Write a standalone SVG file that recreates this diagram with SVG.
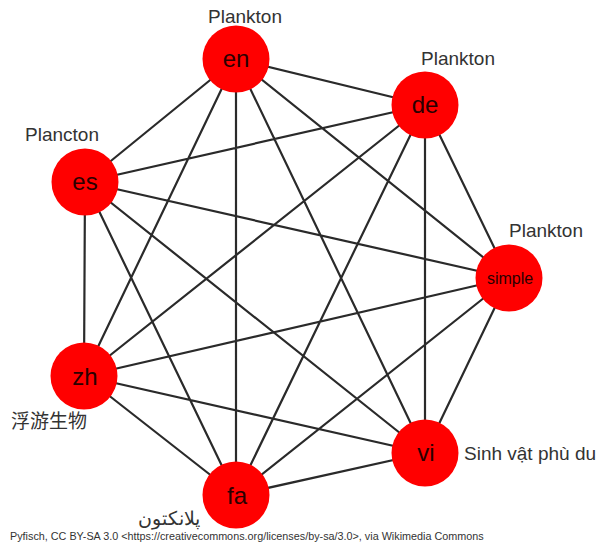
<svg xmlns="http://www.w3.org/2000/svg" width="605" height="543" viewBox="0 0 605 543">
<style>
.e{stroke:#2a2a2a;stroke-width:2.2;fill:none}
.n{fill:#ff0000}
.t{font-family:"Liberation Sans",Arial,sans-serif;fill:#2a0000;text-anchor:middle}
.l{font-family:"Liberation Sans",Arial,"Noto Sans CJK SC",sans-serif;fill:#333;font-size:19px}
</style>
<rect width="605" height="543" fill="#fff"/>
<g id="edges">
<path class="e" d="M236,59L425,105M236,59L85,182M236,59L509,278M236,59L84,376M236,59L425,453M236,59L236,495
M425,105L85,182M425,105L509,278M425,105L84,376M425,105L425,453M425,105L236,495
M85,182L509,278M85,182L84,376M85,182L425,453M85,182L236,495
M509,278L84,376M509,278L425,453M509,278L236,495
M84,376L425,453M84,376L236,495
M425,453L236,495"/>
</g>
<g id="en"><circle class="n" cx="236" cy="59" r="33.5"/><text class="t" x="236" y="67" font-size="24">en</text><text class="l" x="245" y="23" text-anchor="middle">Plankton</text></g>
<g id="de"><circle class="n" cx="425" cy="105" r="33.5"/><text class="t" x="425" y="113" font-size="24">de</text><text class="l" x="458" y="65" text-anchor="middle">Plankton</text></g>
<g id="es"><circle class="n" cx="85" cy="182" r="33.5"/><text class="t" x="85" y="190" font-size="24">es</text><text class="l" x="62" y="141" text-anchor="middle">Plancton</text></g>
<g id="simple"><circle class="n" cx="509" cy="278" r="33.5"/><text class="t" x="510" y="284" font-size="16">simple</text><text class="l" x="546" y="237" text-anchor="middle">Plankton</text></g>
<g id="zh"><circle class="n" cx="84" cy="376" r="33.5"/><text class="t" x="85" y="385" font-size="24">zh</text><text class="l" x="49" y="428" text-anchor="middle">浮游生物</text></g>
<g id="vi"><circle class="n" cx="425" cy="453" r="33.5"/><text class="t" x="426" y="461" font-size="24">vi</text><text class="l" x="464" y="460">Sinh vật phù du</text></g>
<g id="fa"><circle class="n" cx="236" cy="495" r="33.5"/><text class="t" x="237" y="504" font-size="24">fa</text><text class="l" x="169" y="525" text-anchor="middle" direction="rtl">پلانکتون</text></g>
<text x="10" y="540" font-family="Liberation Sans,Arial,sans-serif" font-size="10.8" fill="#333">Pyfisch, CC BY-SA 3.0 &lt;https://creativecommons.org/licenses/by-sa/3.0&gt;, via Wikimedia Commons</text>
</svg>
